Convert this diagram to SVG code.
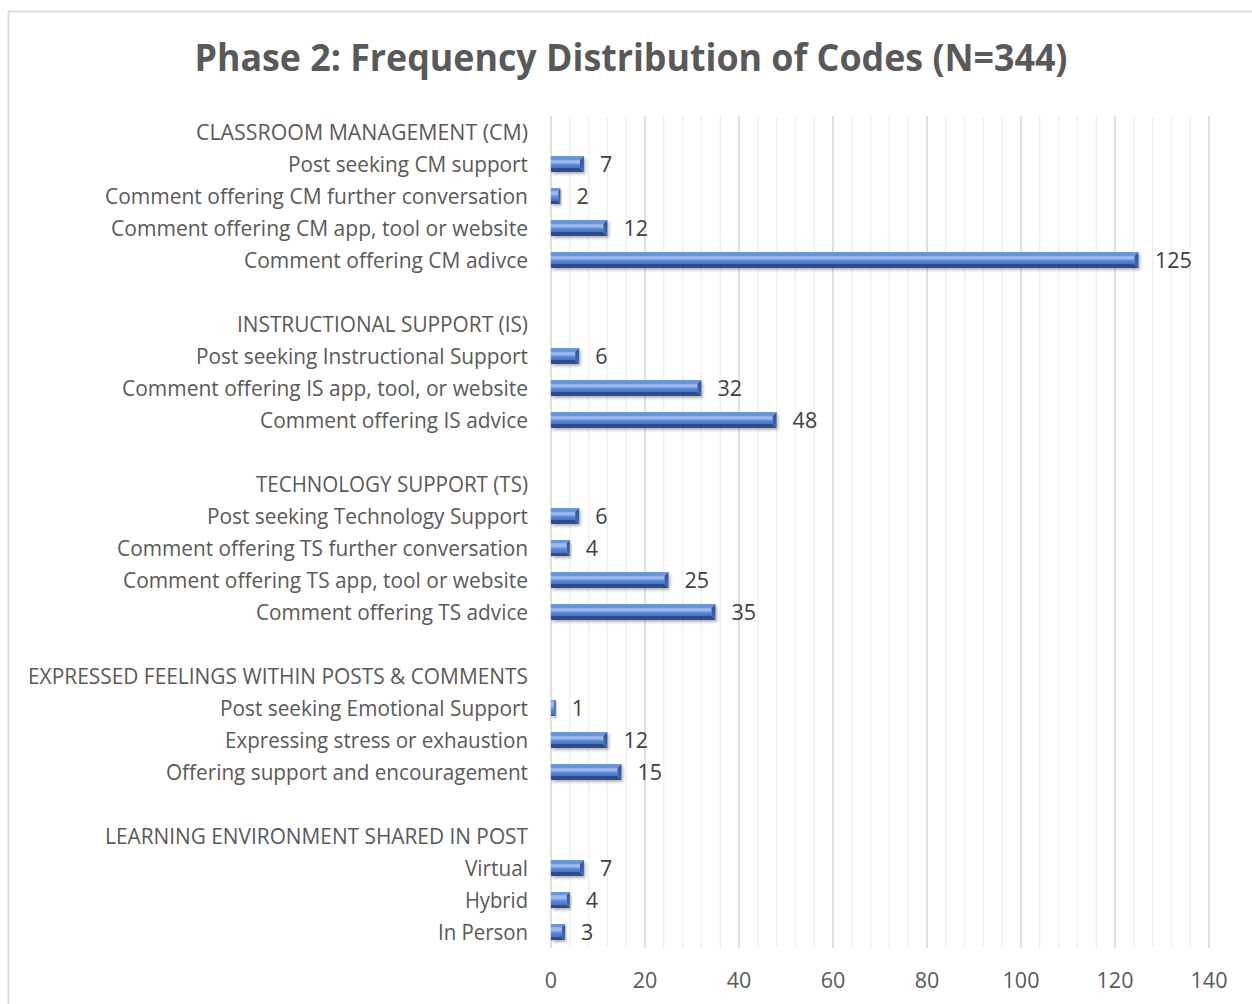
<svg xmlns="http://www.w3.org/2000/svg" width="1252" height="1004" viewBox="0 0 1252 1004">
  <style>
    .title { font-family: "Open Sans", "Liberation Sans", sans-serif; font-weight: 700; font-size: 38px; fill: #595959; }
    .cat { font-family: "Open Sans", "Liberation Sans", sans-serif; font-size: 21.5px; fill: #595959; text-anchor: end; }
    .val { font-family: "Open Sans", "Liberation Sans", sans-serif; font-size: 21.5px; fill: #404040; }
    .tick { font-family: "Open Sans", "Liberation Sans", sans-serif; font-size: 21.5px; fill: #595959; text-anchor: middle; }
    .minor { stroke: #efefef; stroke-width: 1.3; }
    .major { stroke: #d9d9d9; stroke-width: 1.6; }
    .bt { fill: #6a94dc; }
    .bb { fill: #2c4d8e; }
    .br { fill: url(#sideGrad); }
    .bf { fill: url(#faceGrad); }
    .bar { filter: url(#shadow); }
  </style>
  <defs>
    <linearGradient id="faceGrad" x1="0" y1="0" x2="0" y2="1">
      <stop offset="0" stop-color="#8fb0ea"/>
      <stop offset="0.3" stop-color="#a3bff0"/>
      <stop offset="0.6" stop-color="#5b88d6"/>
      <stop offset="1" stop-color="#4471c2"/>
    </linearGradient>
    <linearGradient id="sideGrad" x1="0" y1="0" x2="0" y2="1">
      <stop offset="0" stop-color="#2f5396"/>
      <stop offset="1" stop-color="#3f68b4"/>
    </linearGradient>
    <filter id="shadow" x="-5%" y="-40%" width="115%" height="190%">
      <feDropShadow dx="1.5" dy="2" stdDeviation="1.5" flood-color="#000" flood-opacity="0.3"/>
    </filter>
  </defs>

  <rect x="0" y="0" width="1252" height="1004" fill="#ffffff"/>
  <!-- chart area frame (extends past the right and bottom edges) -->
  <rect x="8.5" y="11.5" width="1400" height="1100" fill="none" stroke="#d9d9d9" stroke-width="1.8"/>

  <text class="title" x="631" y="71" text-anchor="middle" textLength="873" lengthAdjust="spacingAndGlyphs">Phase 2: Frequency Distribution of Codes (N=344)</text>

  <!-- vertical gridlines: minor every 4 units, major every 20 units (4.7 px per unit, 0 at x=551) -->
  <g id="gridlines">
    <path class="minor" d="M569.8 116V948M588.6 116V948M607.4 116V948M626.2 116V948
      M663.8 116V948M682.6 116V948M701.4 116V948M720.2 116V948
      M757.8 116V948M776.6 116V948M795.4 116V948M814.2 116V948
      M851.8 116V948M870.6 116V948M889.4 116V948M908.2 116V948
      M945.8 116V948M964.6 116V948M983.4 116V948M1002.2 116V948
      M1039.8 116V948M1058.6 116V948M1077.4 116V948M1096.2 116V948
      M1133.8 116V948M1152.6 116V948M1171.4 116V948M1190.2 116V948"/>
    <path class="major" d="M551 116V948M645 116V948M739 116V948M833 116V948M927 116V948M1021 116V948M1115 116V948M1209 116V948"/>
  </g>

  <!-- axis tick labels -->
  <g id="x-axis">
    <text class="tick" x="551" y="988">0</text>
    <text class="tick" x="645" y="988">20</text>
    <text class="tick" x="739" y="988">40</text>
    <text class="tick" x="833" y="988">60</text>
    <text class="tick" x="927" y="988">80</text>
    <text class="tick" x="1021" y="988">100</text>
    <text class="tick" x="1115" y="988">120</text>
    <text class="tick" x="1209" y="988">140</text>
  </g>

  <!-- Classroom management -->
  <g id="cm-header">
    <text class="cat" x="528" y="139.5" textLength="332" lengthAdjust="spacingAndGlyphs">CLASSROOM MANAGEMENT (CM)</text>
  </g>
  <g id="cm-post">
    <text class="cat" x="528" y="171.5" textLength="240" lengthAdjust="spacingAndGlyphs">Post seeking CM support</text>
    <g class="bar">
      <rect class="bf" x="551" y="160" width="28.9" height="8"/>
      <polygon class="bt" points="551,156 583.9,156 579.9,160 551,160"/>
      <polygon class="bb" points="551,172 583.9,172 579.9,168 551,168"/>
      <polygon class="br" points="583.9,156 583.9,172 579.9,168 579.9,160"/>
    </g>
    <text class="val" x="600" y="171.5">7</text>
  </g>
  <g id="cm-further">
    <text class="cat" x="528" y="203.5" textLength="423" lengthAdjust="spacingAndGlyphs">Comment offering CM further conversation</text>
    <g class="bar">
      <rect class="bf" x="551" y="191" width="7.4" height="10"/>
      <polygon class="bt" points="551,188 560.4,188 558.4,191 551,191"/>
      <polygon class="bb" points="551,204 560.4,204 558.4,201 551,201"/>
      <polygon class="br" points="560.4,188 560.4,204 558.4,201 558.4,191"/>
    </g>
    <text class="val" x="576.4" y="203.5">2</text>
  </g>
  <g id="cm-app">
    <text class="cat" x="528" y="235.5" textLength="417" lengthAdjust="spacingAndGlyphs">Comment offering CM app, tool or website</text>
    <g class="bar">
      <rect class="bf" x="551" y="224" width="52.4" height="8"/>
      <polygon class="bt" points="551,220 607.4,220 603.4,224 551,224"/>
      <polygon class="bb" points="551,236 607.4,236 603.4,232 551,232"/>
      <polygon class="br" points="607.4,220 607.4,236 603.4,232 603.4,224"/>
    </g>
    <text class="val" x="623.4" y="235.5">12</text>
  </g>
  <g id="cm-advice">
    <text class="cat" x="528" y="267.5" textLength="284" lengthAdjust="spacingAndGlyphs">Comment offering CM adivce</text>
    <g class="bar">
      <rect class="bf" x="551" y="256" width="583.5" height="8"/>
      <polygon class="bt" points="551,252 1138.5,252 1134.5,256 551,256"/>
      <polygon class="bb" points="551,268 1138.5,268 1134.5,264 551,264"/>
      <polygon class="br" points="1138.5,252 1138.5,268 1134.5,264 1134.5,256"/>
    </g>
    <text class="val" x="1155" y="267.5">125</text>
  </g>

  <!-- Instructional support -->
  <g id="is-header">
    <text class="cat" x="528" y="331.5" textLength="291" lengthAdjust="spacingAndGlyphs">INSTRUCTIONAL SUPPORT (IS)</text>
  </g>
  <g id="is-post">
    <text class="cat" x="528" y="363.5" textLength="332" lengthAdjust="spacingAndGlyphs">Post seeking Instructional Support</text>
    <g class="bar">
      <rect class="bf" x="551" y="352" width="24.2" height="8"/>
      <polygon class="bt" points="551,348 579.2,348 575.2,352 551,352"/>
      <polygon class="bb" points="551,364 579.2,364 575.2,360 551,360"/>
      <polygon class="br" points="579.2,348 579.2,364 575.2,360 575.2,352"/>
    </g>
    <text class="val" x="595.2" y="363.5">6</text>
  </g>
  <g id="is-app">
    <text class="cat" x="528" y="395.5" textLength="406" lengthAdjust="spacingAndGlyphs">Comment offering IS app, tool, or website</text>
    <g class="bar">
      <rect class="bf" x="551" y="384" width="146.4" height="8"/>
      <polygon class="bt" points="551,380 701.4,380 697.4,384 551,384"/>
      <polygon class="bb" points="551,396 701.4,396 697.4,392 551,392"/>
      <polygon class="br" points="701.4,380 701.4,396 697.4,392 697.4,384"/>
    </g>
    <text class="val" x="717.4" y="395.5">32</text>
  </g>
  <g id="is-advice">
    <text class="cat" x="528" y="427.5" textLength="268" lengthAdjust="spacingAndGlyphs">Comment offering IS advice</text>
    <g class="bar">
      <rect class="bf" x="551" y="416" width="221.6" height="8"/>
      <polygon class="bt" points="551,412 776.6,412 772.6,416 551,416"/>
      <polygon class="bb" points="551,428 776.6,428 772.6,424 551,424"/>
      <polygon class="br" points="776.6,412 776.6,428 772.6,424 772.6,416"/>
    </g>
    <text class="val" x="792.6" y="427.5">48</text>
  </g>

  <!-- Technology support -->
  <g id="ts-header">
    <text class="cat" x="528" y="491.5" textLength="272" lengthAdjust="spacingAndGlyphs">TECHNOLOGY SUPPORT (TS)</text>
  </g>
  <g id="ts-post">
    <text class="cat" x="528" y="523.5" textLength="321" lengthAdjust="spacingAndGlyphs">Post seeking Technology Support</text>
    <g class="bar">
      <rect class="bf" x="551" y="512" width="24.2" height="8"/>
      <polygon class="bt" points="551,508 579.2,508 575.2,512 551,512"/>
      <polygon class="bb" points="551,524 579.2,524 575.2,520 551,520"/>
      <polygon class="br" points="579.2,508 579.2,524 575.2,520 575.2,512"/>
    </g>
    <text class="val" x="595.2" y="523.5">6</text>
  </g>
  <g id="ts-further">
    <text class="cat" x="528" y="555.5" textLength="411" lengthAdjust="spacingAndGlyphs">Comment offering TS further conversation</text>
    <g class="bar">
      <rect class="bf" x="551" y="543" width="15.8" height="10"/>
      <polygon class="bt" points="551,540 569.8,540 566.8,543 551,543"/>
      <polygon class="bb" points="551,556 569.8,556 566.8,553 551,553"/>
      <polygon class="br" points="569.8,540 569.8,556 566.8,553 566.8,543"/>
    </g>
    <text class="val" x="585.8" y="555.5">4</text>
  </g>
  <g id="ts-app">
    <text class="cat" x="528" y="587.5" textLength="405" lengthAdjust="spacingAndGlyphs">Comment offering TS app, tool or website</text>
    <g class="bar">
      <rect class="bf" x="551" y="576" width="113.5" height="8"/>
      <polygon class="bt" points="551,572 668.5,572 664.5,576 551,576"/>
      <polygon class="bb" points="551,588 668.5,588 664.5,584 551,584"/>
      <polygon class="br" points="668.5,572 668.5,588 664.5,584 664.5,576"/>
    </g>
    <text class="val" x="684.5" y="587.5">25</text>
  </g>
  <g id="ts-advice">
    <text class="cat" x="528" y="619.5" textLength="272" lengthAdjust="spacingAndGlyphs">Comment offering TS advice</text>
    <g class="bar">
      <rect class="bf" x="551" y="608" width="160.5" height="8"/>
      <polygon class="bt" points="551,604 715.5,604 711.5,608 551,608"/>
      <polygon class="bb" points="551,620 715.5,620 711.5,616 551,616"/>
      <polygon class="br" points="715.5,604 715.5,620 711.5,616 711.5,608"/>
    </g>
    <text class="val" x="731.5" y="619.5">35</text>
  </g>

  <!-- Expressed feelings -->
  <g id="ef-header">
    <text class="cat" x="528" y="683.5" textLength="500" lengthAdjust="spacingAndGlyphs">EXPRESSED FEELINGS WITHIN POSTS &amp; COMMENTS</text>
  </g>
  <g id="ef-post">
    <text class="cat" x="528" y="715.5" textLength="308" lengthAdjust="spacingAndGlyphs">Post seeking Emotional Support</text>
    <g class="bar">
      <rect class="bf" x="551" y="701" width="3.2" height="14"/>
      <polygon class="bt" points="551,700 555.7,700 554.2,701 551,701"/>
      <polygon class="bb" points="551,716 555.7,716 554.2,715 551,715"/>
      <polygon class="br" points="555.7,700 555.7,716 554.2,715 554.2,701"/>
    </g>
    <text class="val" x="571.7" y="715.5">1</text>
  </g>
  <g id="ef-stress">
    <text class="cat" x="528" y="747.5" textLength="303" lengthAdjust="spacingAndGlyphs">Expressing stress or exhaustion</text>
    <g class="bar">
      <rect class="bf" x="551" y="736" width="52.4" height="8"/>
      <polygon class="bt" points="551,732 607.4,732 603.4,736 551,736"/>
      <polygon class="bb" points="551,748 607.4,748 603.4,744 551,744"/>
      <polygon class="br" points="607.4,732 607.4,748 603.4,744 603.4,736"/>
    </g>
    <text class="val" x="623.4" y="747.5">12</text>
  </g>
  <g id="ef-support">
    <text class="cat" x="528" y="779.5" textLength="362" lengthAdjust="spacingAndGlyphs">Offering support and encouragement</text>
    <g class="bar">
      <rect class="bf" x="551" y="768" width="66.5" height="8"/>
      <polygon class="bt" points="551,764 621.5,764 617.5,768 551,768"/>
      <polygon class="bb" points="551,780 621.5,780 617.5,776 551,776"/>
      <polygon class="br" points="621.5,764 621.5,780 617.5,776 617.5,768"/>
    </g>
    <text class="val" x="637.5" y="779.5">15</text>
  </g>

  <!-- Learning environment -->
  <g id="le-header">
    <text class="cat" x="528" y="843.5" textLength="423" lengthAdjust="spacingAndGlyphs">LEARNING ENVIRONMENT SHARED IN POST</text>
  </g>
  <g id="le-virtual">
    <text class="cat" x="528" y="875.5" textLength="63" lengthAdjust="spacingAndGlyphs">Virtual</text>
    <g class="bar">
      <rect class="bf" x="551" y="864" width="28.9" height="8"/>
      <polygon class="bt" points="551,860 583.9,860 579.9,864 551,864"/>
      <polygon class="bb" points="551,876 583.9,876 579.9,872 551,872"/>
      <polygon class="br" points="583.9,860 583.9,876 579.9,872 579.9,864"/>
    </g>
    <text class="val" x="599.9" y="875.5">7</text>
  </g>
  <g id="le-hybrid">
    <text class="cat" x="528" y="907.5" textLength="63" lengthAdjust="spacingAndGlyphs">Hybrid</text>
    <g class="bar">
      <rect class="bf" x="551" y="895" width="15.8" height="10"/>
      <polygon class="bt" points="551,892 569.8,892 566.8,895 551,895"/>
      <polygon class="bb" points="551,908 569.8,908 566.8,905 551,905"/>
      <polygon class="br" points="569.8,892 569.8,908 566.8,905 566.8,895"/>
    </g>
    <text class="val" x="585.8" y="907.5">4</text>
  </g>
  <g id="le-inperson">
    <text class="cat" x="528" y="939.5" textLength="90" lengthAdjust="spacingAndGlyphs">In Person</text>
    <g class="bar">
      <rect class="bf" x="551" y="927" width="11.1" height="10"/>
      <polygon class="bt" points="551,924 565.1,924 562.1,927 551,927"/>
      <polygon class="bb" points="551,940 565.1,940 562.1,937 551,937"/>
      <polygon class="br" points="565.1,924 565.1,940 562.1,937 562.1,927"/>
    </g>
    <text class="val" x="581.1" y="939.5">3</text>
  </g>
</svg>
